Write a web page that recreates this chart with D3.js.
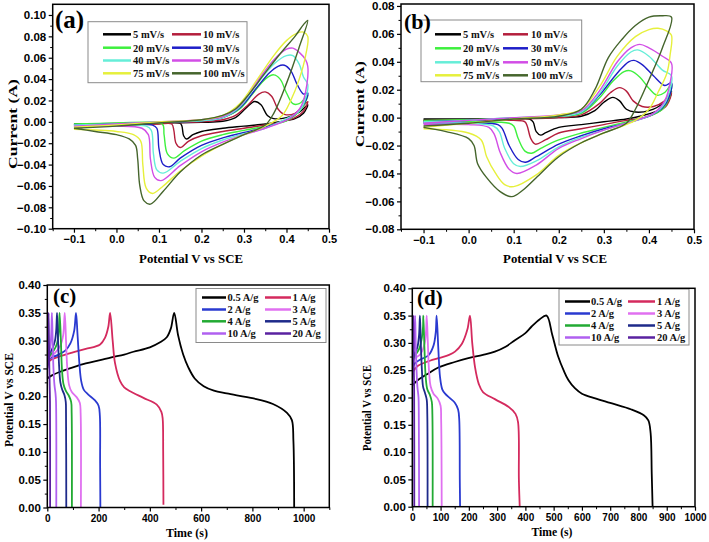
<!DOCTYPE html>
<html><head><meta charset="utf-8">
<script src="https://cdn.jsdelivr.net/npm/d3@7"></script>
<style>body{margin:0;background:#fff}svg{display:block}</style>
</head><body>
<svg id="c" width="709" height="542"></svg>
<script>
// ---------------- DATA ----------------
const cvLabels = ["5 mV/s","10 mV/s","20 mV/s","30 mV/s","40 mV/s","50 mV/s","75 mV/s","100 mV/s"];
const gcdLabels = ["0.5 A/g","1 A/g","2 A/g","3 A/g","4 A/g","5 A/g","10 A/g","20 A/g"];

const cvXTicks = [-0.1,0.0,0.1,0.2,0.3,0.4,0.5];
const cvAYTicks = [-0.10,-0.08,-0.06,-0.04,-0.02,0.00,0.02,0.04,0.06,0.08,0.10];
const cvBYTicks = [-0.08,-0.06,-0.04,-0.02,0.00,0.02,0.04,0.06,0.08];
const gcdYTicks = [0.00,0.05,0.10,0.15,0.20,0.25,0.30,0.35,0.40];
const gcdCXTicks = [0,200,400,600,800,1000];
const gcdDXTicks = [0,100,200,300,400,500,600,700,800,900,1000];

// CV (a): [potential V, current A]
const cvA_5 = [[-0.1,-0.002],[0,-0.0015],[0.1,-0.001],[0.2,-0.0005],[0.25,0.0005],[0.28,0.004],[0.305,0.013],[0.325,0.019],[0.34,0.016],[0.355,0.006],[0.37,0.003],[0.4,0.004],[0.43,0.009],[0.45,0.016],
  [0.44,0.008],[0.42,0.003],[0.38,0.0],[0.35,-0.002],[0.3,-0.004],[0.25,-0.006],[0.2,-0.009],[0.18,-0.012],[0.165,-0.016],[0.158,-0.013],[0.154,-0.004],[0.15,-0.0015],[0.1,-0.0015],[0,-0.002],[-0.1,-0.0025]];
const cvA_10 = [[-0.1,-0.003],[0,-0.002],[0.1,-0.001],[0.2,0.0],[0.25,0.002],[0.28,0.006],[0.31,0.016],[0.335,0.026],[0.35,0.028],[0.365,0.024],[0.38,0.012],[0.395,0.007],[0.42,0.008],[0.45,0.019],
  [0.44,0.01],[0.42,0.004],[0.39,0.0],[0.35,-0.003],[0.3,-0.006],[0.25,-0.009],[0.2,-0.013],[0.17,-0.018],[0.15,-0.024],[0.14,-0.02],[0.135,-0.008],[0.13,-0.002],[0.1,-0.002],[0,-0.003],[-0.1,-0.003]];
const cvA_20 = [[-0.1,-0.002],[0,-0.001],[0.1,0.0],[0.2,0.001],[0.25,0.004],[0.29,0.012],[0.32,0.026],[0.35,0.04],[0.37,0.044],[0.385,0.04],[0.4,0.027],[0.415,0.017],[0.43,0.017],[0.45,0.025],
  [0.44,0.015],[0.42,0.006],[0.4,0.001],[0.35,-0.004],[0.3,-0.008],[0.25,-0.012],[0.2,-0.018],[0.16,-0.027],[0.135,-0.034],[0.12,-0.03],[0.112,-0.012],[0.108,-0.002],[0.05,-0.001],[-0.1,-0.002]];
const cvA_30 = [[-0.1,-0.003],[0,-0.002],[0.1,-0.0005],[0.2,0.001],[0.25,0.004],[0.29,0.013],[0.33,0.032],[0.36,0.046],[0.38,0.052],[0.395,0.053],[0.41,0.048],[0.425,0.035],[0.44,0.026],[0.45,0.027],
  [0.44,0.016],[0.42,0.007],[0.4,0.002],[0.35,-0.005],[0.3,-0.01],[0.25,-0.015],[0.2,-0.022],[0.15,-0.034],[0.125,-0.042],[0.11,-0.04],[0.1,-0.025],[0.095,-0.006],[0.085,-0.003],[0,-0.003],[-0.1,-0.004]];
const cvA_40 = [[-0.1,-0.003],[0,-0.002],[0.1,0.0],[0.2,0.001],[0.25,0.004],[0.29,0.014],[0.33,0.035],[0.37,0.054],[0.4,0.062],[0.415,0.062],[0.43,0.054],[0.44,0.042],[0.45,0.035],
  [0.445,0.022],[0.43,0.01],[0.4,0.003],[0.35,-0.006],[0.3,-0.011],[0.25,-0.017],[0.2,-0.025],[0.15,-0.037],[0.11,-0.048],[0.095,-0.045],[0.087,-0.03],[0.082,-0.008],[0.07,-0.004],[0,-0.004],[-0.1,-0.004]];
const cvA_50 = [[-0.1,-0.004],[0,-0.002],[0.1,0.0],[0.2,0.002],[0.25,0.005],[0.29,0.015],[0.33,0.037],[0.37,0.058],[0.4,0.068],[0.415,0.069],[0.43,0.065],[0.445,0.058],[0.45,0.052],
  [0.448,0.035],[0.435,0.015],[0.41,0.004],[0.35,-0.006],[0.3,-0.012],[0.25,-0.019],[0.2,-0.028],[0.15,-0.041],[0.105,-0.055],[0.09,-0.052],[0.08,-0.035],[0.075,-0.012],[0.06,-0.006],[0,-0.004],[-0.1,-0.005]];
const cvA_75 = [[-0.1,-0.005],[0,-0.003],[0.1,0.0],[0.2,0.002],[0.25,0.006],[0.29,0.017],[0.33,0.039],[0.37,0.062],[0.4,0.076],[0.425,0.083],[0.44,0.084],[0.45,0.08],
  [0.445,0.062],[0.43,0.04],[0.41,0.02],[0.39,0.006],[0.35,-0.004],[0.3,-0.012],[0.25,-0.021],[0.2,-0.032],[0.15,-0.046],[0.11,-0.06],[0.085,-0.067],[0.07,-0.062],[0.062,-0.04],[0.057,-0.018],[0.04,-0.012],[0,-0.009],[-0.1,-0.007]];
const cvA_100 = [[-0.1,-0.006],[0,-0.004],[0.1,-0.001],[0.2,0.002],[0.25,0.006],[0.28,0.012],[0.31,0.025],[0.35,0.046],[0.39,0.066],[0.42,0.08],[0.44,0.091],[0.45,0.095],
  [0.43,0.07],[0.4,0.036],[0.37,0.008],[0.35,-0.003],[0.3,-0.012],[0.25,-0.021],[0.2,-0.031],[0.15,-0.047],[0.11,-0.065],[0.08,-0.077],[0.065,-0.074],[0.055,-0.06],[0.05,-0.035],[0.045,-0.022],[0.03,-0.016],[0,-0.012],[-0.05,-0.009],[-0.1,-0.006]];

// CV (b)
const cvB_5 = [[-0.1,-0.001],[0,-0.001],[0.1,-0.0005],[0.2,0.0],[0.25,0.001],[0.28,0.005],[0.3,0.011],[0.32,0.0145],[0.335,0.012],[0.35,0.006],[0.37,0.004],[0.4,0.005],[0.43,0.01],[0.45,0.019],
  [0.44,0.01],[0.42,0.005],[0.38,0.001],[0.35,-0.001],[0.3,-0.003],[0.25,-0.005],[0.2,-0.007],[0.17,-0.011],[0.16,-0.0125],[0.15,-0.01],[0.143,-0.003],[0.135,-0.001],[0.1,-0.001],[0,-0.001],[-0.1,-0.002]];
const cvB_10 = [[-0.1,-0.002],[0,-0.0015],[0.1,-0.001],[0.2,0.0],[0.25,0.002],[0.29,0.01],[0.315,0.018],[0.335,0.0215],[0.35,0.019],[0.365,0.012],[0.385,0.008],[0.41,0.008],[0.435,0.012],[0.45,0.018],
  [0.44,0.009],[0.42,0.004],[0.39,0.0],[0.35,-0.002],[0.3,-0.005],[0.25,-0.008],[0.2,-0.011],[0.17,-0.016],[0.148,-0.019],[0.138,-0.015],[0.13,-0.006],[0.125,-0.003],[0.1,-0.002],[0,-0.002],[-0.1,-0.003]];
const cvB_20 = [[-0.1,-0.002],[0,-0.0015],[0.1,-0.0005],[0.2,0.001],[0.25,0.003],[0.29,0.014],[0.32,0.026],[0.345,0.033],[0.36,0.0335],[0.38,0.029],[0.4,0.021],[0.418,0.016],[0.435,0.018],[0.45,0.024],
  [0.445,0.014],[0.43,0.006],[0.4,0.001],[0.35,-0.003],[0.3,-0.007],[0.25,-0.011],[0.2,-0.016],[0.16,-0.022],[0.14,-0.0255],[0.125,-0.024],[0.11,-0.015],[0.1,-0.006],[0.09,-0.004],[0,-0.003],[-0.1,-0.002]];
const cvB_30 = [[-0.1,-0.003],[0,-0.002],[0.1,-0.0005],[0.2,0.001],[0.25,0.004],[0.29,0.016],[0.33,0.032],[0.355,0.04],[0.367,0.041],[0.385,0.038],[0.41,0.03],[0.435,0.023],[0.45,0.025],
  [0.445,0.015],[0.43,0.007],[0.4,0.001],[0.35,-0.004],[0.3,-0.008],[0.25,-0.013],[0.2,-0.019],[0.15,-0.028],[0.126,-0.032],[0.11,-0.03],[0.09,-0.02],[0.075,-0.008],[0.065,-0.005],[0,-0.004],[-0.1,-0.004]];
const cvB_40 = [[-0.1,-0.003],[0,-0.002],[0.1,0.0],[0.2,0.001],[0.25,0.004],[0.29,0.017],[0.33,0.037],[0.36,0.047],[0.375,0.0485],[0.4,0.044],[0.43,0.034],[0.45,0.03],
  [0.445,0.018],[0.43,0.008],[0.4,0.001],[0.35,-0.004],[0.3,-0.009],[0.25,-0.014],[0.2,-0.021],[0.15,-0.031],[0.115,-0.035],[0.1,-0.033],[0.08,-0.022],[0.068,-0.01],[0.055,-0.006],[0,-0.004],[-0.1,-0.004]];
const cvB_50 = [[-0.1,-0.004],[0,-0.002],[0.1,0.0],[0.2,0.002],[0.25,0.005],[0.29,0.019],[0.33,0.04],[0.36,0.05],[0.38,0.0525],[0.4,0.05],[0.43,0.044],[0.45,0.039],
  [0.447,0.025],[0.435,0.012],[0.41,0.003],[0.35,-0.004],[0.3,-0.009],[0.25,-0.015],[0.2,-0.022],[0.15,-0.034],[0.107,-0.04],[0.09,-0.037],[0.07,-0.025],[0.057,-0.012],[0.045,-0.007],[0,-0.005],[-0.1,-0.005]];
const cvB_75 = [[-0.1,-0.007],[0,-0.004],[0.1,-0.001],[0.2,0.002],[0.25,0.006],[0.29,0.022],[0.33,0.044],[0.37,0.058],[0.4,0.063],[0.42,0.064],[0.44,0.062],[0.45,0.059],
  [0.447,0.045],[0.44,0.032],[0.42,0.018],[0.4,0.006],[0.37,-0.002],[0.3,-0.011],[0.25,-0.018],[0.2,-0.027],[0.15,-0.041],[0.1,-0.0494],[0.08,-0.048],[0.06,-0.04],[0.04,-0.028],[0.028,-0.016],[0.0,-0.011],[-0.1,-0.008]];
const cvB_100 = [[-0.1,-0.006],[0,-0.004],[0.1,-0.001],[0.2,0.001],[0.25,0.006],[0.28,0.02],[0.31,0.043],[0.34,0.056],[0.37,0.066],[0.4,0.072],[0.43,0.073],[0.45,0.072],
  [0.43,0.05],[0.4,0.027],[0.37,0.006],[0.35,-0.004],[0.3,-0.011],[0.25,-0.018],[0.2,-0.028],[0.15,-0.043],[0.12,-0.052],[0.096,-0.0566],[0.07,-0.053],[0.04,-0.043],[0.02,-0.033],[0.012,-0.02],[0.0,-0.015],[-0.05,-0.01],[-0.1,-0.007]];

// GCD (c): [time s, potential V]
const gcdC_05 = [[0,0.232],[20,0.238],[50,0.244],[100,0.252],[150,0.259],[206,0.265],[250,0.27],[300,0.275],[336,0.28],[400,0.288],[440,0.297],[466,0.306],[482,0.322],[495,0.35],[510,0.31],[530,0.275],[550,0.252],[575,0.232],[610,0.218],[650,0.21],[700,0.205],[805,0.196],[880,0.186],[935,0.17],[954,0.157],[960,0.12],[963,0.0]];
const gcdC_1 = [[0,0.255],[10,0.264],[50,0.272],[100,0.279],[150,0.285],[206,0.293],[225,0.305],[238,0.325],[245,0.35],[255,0.3],[264,0.26],[284,0.227],[300,0.216],[323,0.209],[375,0.197],[427,0.185],[445,0.172],[450,0.16],[452,0.1],[453,0.005]];
const gcdC_2 = [[0,0.262],[10,0.268],[40,0.274],[70,0.282],[90,0.295],[105,0.318],[112,0.35],[118,0.31],[125,0.26],[132,0.228],[142,0.212],[160,0.203],[185,0.193],[200,0.183],[205,0.165],[206,0.08],[207,0.0]];
const gcdC_3 = [[0,0.262],[10,0.27],[30,0.278],[50,0.29],[62,0.31],[68,0.35],[73,0.3],[78,0.25],[85,0.22],[95,0.208],[115,0.198],[127,0.188],[130,0.17],[131,0.0]];
const gcdC_4 = [[0,0.265],[10,0.273],[25,0.282],[38,0.295],[45,0.318],[48,0.35],[53,0.3],[57,0.25],[63,0.222],[72,0.21],[85,0.2],[93,0.19],[95,0.17],[96,0.0]];
const gcdC_5 = [[0,0.268],[8,0.276],[20,0.286],[30,0.3],[35,0.32],[38,0.35],[42,0.3],[46,0.255],[51,0.225],[58,0.212],[67,0.202],[72,0.19],[73,0.17],[74,0.0]];
const gcdC_10 = [[0,0.26],[5,0.272],[12,0.29],[16,0.32],[18,0.35],[21,0.3],[24,0.25],[28,0.22],[32,0.205],[34,0.19],[35,0.0]];
const gcdC_20 = [[0,0.25],[2,0.27],[4,0.3],[5,0.35],[6.5,0.3],[8,0.25],[9.5,0.215],[10.5,0.19],[11,0.0]];

// GCD (d)
const gcdD_05 = [[0,0.222],[20,0.232],[50,0.242],[92,0.255],[150,0.265],[198,0.272],[250,0.278],[292,0.284],[330,0.293],[363,0.305],[400,0.318],[422,0.33],[450,0.343],[475,0.35],[495,0.315],[516,0.275],[535,0.25],[552,0.232],[575,0.217],[600,0.207],[650,0.198],[700,0.19],[775,0.178],[820,0.167],[835,0.158],[843,0.135],[847,0.06],[850,0.0]];
const gcdD_1 = [[0,0.245],[20,0.258],[50,0.265],[92,0.272],[130,0.278],[151,0.284],[175,0.298],[195,0.325],[204,0.35],[212,0.3],[222,0.255],[235,0.225],[250,0.21],[292,0.197],[340,0.183],[365,0.17],[374,0.155],[377,0.05],[380,0.0]];
const gcdD_2 = [[0,0.255],[10,0.263],[30,0.27],[57,0.277],[75,0.295],[83,0.32],[86,0.35],[92,0.29],[98,0.238],[106,0.215],[116,0.207],[135,0.198],[151,0.19],[162,0.178],[166,0.16],[168,0.05],[169,0.0]];
const gcdD_3 = [[0,0.265],[10,0.272],[30,0.28],[44,0.3],[49,0.325],[51,0.35],[55,0.3],[59,0.25],[65,0.22],[75,0.207],[90,0.198],[100,0.185],[102,0.16],[104,0.0]];
const gcdD_4 = [[0,0.268],[10,0.277],[25,0.29],[34,0.31],[38,0.33],[39,0.35],[43,0.29],[47,0.24],[53,0.215],[62,0.205],[69,0.192],[71,0.17],[72,0.0]];
const gcdD_5 = [[0,0.27],[8,0.28],[18,0.292],[24,0.315],[27,0.35],[30,0.3],[34,0.25],[38,0.22],[45,0.208],[51,0.196],[53,0.17],[54,0.0]];
const gcdD_10 = [[0,0.265],[4,0.28],[8,0.31],[10,0.35],[12,0.3],[15,0.25],[18,0.22],[22,0.2],[23,0.17],[24,0.0]];
const gcdD_20 = [[0,0.26],[2,0.29],[3.5,0.35],[4.5,0.3],[5.5,0.25],[6.5,0.215],[7,0.0]];

const cvColors = ["#000000","#b41e3c","#3ef03e","#1e1ec8","#66eed8","#d24ee6","#e6f03c","#45652c"];
const gcdColors = ["#000000","#d42a5e","#2a3ad0","#e070f0","#22aa33","#1e2a8a","#b060f0","#5a22a0"];

// ---------------- LAYOUT / DRAW ----------------
const svg = d3.select("#c");
const SERIF = "'Liberation Serif','Times New Roman',serif";
const SANS = "'Liberation Sans',Arial,sans-serif";

const panels = [
  {key:"a", series:[cvA_5,cvA_10,cvA_20,cvA_30,cvA_40,cvA_50,cvA_75,cvA_100], colors:cvColors, labels:cvLabels,
   xDomain:[-0.15,0.5], yDomain:[-0.10,0.11], x0:52.7, x1:329, y0:4.3, y1:228.7,
   xTicks:cvXTicks, yTicks:cvAYTicks, xFmt:d3.format(".1f"), yFmt:d3.format(".2f"), lw:1.4, xfs:11,
   xTitle:"Potential V vs SCE", yTitle:"Current (A)", xTitleY:263, xTitleC:191, xTitleL:104,
   yTitleX:17, yTitleC:124, yTitleL:90,
   tag:"(a)", tagX:55, tagY:28, tagSize:25,
   leg:{box:[88,21.7,159,61], rows:[34.3,47.7,60.5,73.3], lx:[[103,131],[172,201]], tx:[133,203], fs:10.5}},
  {key:"b", series:[cvB_5,cvB_10,cvB_20,cvB_30,cvB_40,cvB_50,cvB_75,cvB_100], colors:cvColors, labels:cvLabels,
   xDomain:[-0.15,0.5], yDomain:[-0.08,0.0814], x0:401, x1:694, y0:4, y1:229.3,
   xTicks:cvXTicks, yTicks:cvBYTicks, xFmt:d3.format(".1f"), yFmt:d3.format(".2f"), lw:1.4, xfs:11,
   xTitle:"Potential V vs SCE", yTitle:"Current (A)", xTitleY:263, xTitleC:555, xTitleL:104,
   yTitleX:364, yTitleC:104, yTitleL:86,
   tag:"(b)", tagX:404, tagY:29, tagSize:22,
   leg:{box:[421,20,160.7,61.7], rows:[34.3,48.3,62.3,75.3], lx:[[435,461],[503,528]], tx:[463,531], fs:10.5}},
  {key:"c", series:[gcdC_05,gcdC_1,gcdC_2,gcdC_3,gcdC_4,gcdC_5,gcdC_10,gcdC_20], colors:gcdColors, labels:gcdLabels,
   xDomain:[0,1100], yDomain:[0,0.40], x0:47.3, x1:329.3, y0:285, y1:507.5,
   xTicks:gcdCXTicks, yTicks:gcdYTicks, xFmt:d3.format("d"), yFmt:d3.format(".2f"), lw:1.8, xfs:10,
   xTitle:"Time (s)", yTitle:"Potential V vs SCE", xTitleY:537, xTitleC:187, xTitleL:42,
   yTitleX:13, yTitleC:400, yTitleL:94,
   tag:"(c)", tagX:53, tagY:303, tagSize:21,
   leg:{box:[196,288.5,130,54], rows:[297.5,309.5,321.3,333.5], lx:[[202,226],[265,291]], tx:[227.5,292.5], fs:10.5}},
  {key:"d", series:[gcdD_05,gcdD_1,gcdD_2,gcdD_3,gcdD_4,gcdD_5,gcdD_10,gcdD_20], colors:gcdColors, labels:gcdLabels,
   xDomain:[0,1000], yDomain:[0,0.40], x0:412.3, x1:695, y0:288.3, y1:506.7,
   xTicks:gcdDXTicks, yTicks:gcdYTicks, xFmt:d3.format("d"), yFmt:d3.format(".2f"), lw:1.8, xfs:10,
   xTitle:"Time (s)", yTitle:"Potential V vs SCE", xTitleY:536, xTitleC:552, xTitleL:41,
   yTitleX:371, yTitleC:408, yTitleL:86,
   tag:"(d)", tagX:417, tagY:305, tagSize:21,
   leg:{box:[559,289,130,56], rows:[301.5,313.5,325.5,337.5], lx:[[565,590],[628,655]], tx:[591,657], fs:10.5}}
];

function mids(arr){ const m=[]; for(let i=0;i<arr.length-1;i++) m.push((arr[i]+arr[i+1])/2); return m; }

// place a text and stretch it (glyphs, not spacing) to a target length
function stretchedText(parent, str, cx, cy, rot, target, size) {
  const t = parent.append("text").attr("text-anchor", "middle")
    .attr("font-family", SERIF).attr("font-weight", "bold").attr("font-size", size).text(str);
  const natural = t.node().getComputedTextLength();
  const s = natural > 0 ? target / natural : 1;
  t.attr("transform", `translate(${cx},${cy}) rotate(${rot}) scale(${s},1)`);
  return t;
}

panels.forEach(p => {
  const x = d3.scaleLinear().domain(p.xDomain).range([p.x0, p.x1]);
  const y = d3.scaleLinear().domain(p.yDomain).range([p.y1, p.y0]);
  const cid = "clip-" + p.key;
  svg.append("clipPath").attr("id", cid).append("rect")
    .attr("x", p.x0).attr("y", p.y0).attr("width", p.x1 - p.x0).attr("height", p.y1 - p.y0);

  const line = d3.line().x(d => x(d[0])).y(d => y(d[1])).curve(d3.curveCatmullRom.alpha(0.5));
  const g = svg.append("g").attr("clip-path", `url(#${cid})`);
  p.series.forEach((s, i) => {
    g.append("path").attr("d", line(s)).attr("fill", "none")
      .attr("stroke", p.colors[i]).attr("stroke-width", p.lw).attr("stroke-linejoin","round");
  });

  // legend
  const L = p.leg;
  const lg = svg.append("g");
  lg.append("rect").attr("x", L.box[0]).attr("y", L.box[1]).attr("width", L.box[2]).attr("height", L.box[3])
    .attr("fill", "#fff").attr("stroke", "#8a8a8a").attr("stroke-width", 1);
  p.labels.forEach((lab, i) => {
    const r = Math.floor(i / 2), c = i % 2;
    lg.append("line").attr("x1", L.lx[c][0]).attr("x2", L.lx[c][1]).attr("y1", L.rows[r]).attr("y2", L.rows[r])
      .attr("stroke", p.colors[i]).attr("stroke-width", 2.5);
    lg.append("text").attr("x", L.tx[c]).attr("y", L.rows[r] + 3.8).text(lab)
      .attr("font-family", SERIF).attr("font-weight", "bold").attr("font-size", L.fs).attr("fill", "#111");
  });

  // axes
  const yAx = svg.append("g").attr("transform", `translate(${p.x0},0)`)
    .call(d3.axisLeft(y).tickValues(p.yTicks).tickSize(4).tickPadding(2.5).tickFormat(p.yFmt));
  svg.append("g").attr("transform", `translate(${p.x0},0)`)
    .call(d3.axisLeft(y).tickValues(mids(p.yTicks)).tickSize(2.5).tickFormat(""))
    .call(a => a.select(".domain").remove());
  const xAx = svg.append("g").attr("transform", `translate(0,${p.y1})`)
    .call(d3.axisBottom(x).tickValues(p.xTicks).tickSize(4).tickPadding(3).tickFormat(p.xFmt));
  svg.append("g").attr("transform", `translate(0,${p.y1})`)
    .call(d3.axisBottom(x).tickValues(mids(p.xTicks).concat(p.key==="c"?[1100]:[]).concat(p.key==="a"||p.key==="b"?[-0.15]:[])).tickSize(2.5).tickFormat(""))
    .call(a => a.select(".domain").remove());
  [yAx, xAx].forEach(a => {
    a.select(".domain").remove();
    a.selectAll(".tick line").attr("stroke", "#000").attr("stroke-width", 1.2);
    a.selectAll("text").attr("font-family", SANS).attr("font-weight", "bold").attr("fill", "#000");
  });
  yAx.selectAll("text").attr("font-size", 11.5);
  xAx.selectAll("text").attr("font-size", p.xfs);
  svg.selectAll(".tick line").attr("stroke", "#000");

  // frame
  svg.append("rect").attr("x", p.x0).attr("y", p.y0).attr("width", p.x1 - p.x0).attr("height", p.y1 - p.y0)
    .attr("fill", "none").attr("stroke", "#000").attr("stroke-width", 1.5);

  // titles
  stretchedText(svg, p.xTitle, p.xTitleC, p.xTitleY, 0, p.xTitleL, 12.5);
  stretchedText(svg, p.yTitle, p.yTitleX, p.yTitleC, -90, p.yTitleL, 13);

  // panel tag
  svg.append("text").attr("x", p.tagX).attr("y", p.tagY).attr("font-family", SERIF).attr("font-weight", "bold")
    .attr("font-size", p.tagSize).text(p.tag);
});
</script>
</body></html>
